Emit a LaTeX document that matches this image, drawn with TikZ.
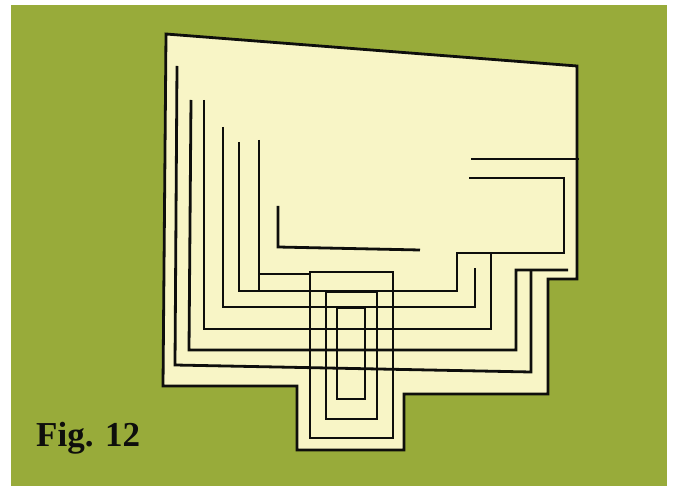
\documentclass[tikz,border=0pt]{standalone}
\usepackage{fontspec}
\setmainfont{Liberation Serif}
\definecolor{bggreen}{HTML}{98AB3A}
\definecolor{cream}{HTML}{F8F5C6}
\definecolor{ink}{HTML}{0E0E0C}
\tikzset{
  wire/.style={draw=ink,line width=2.8pt,line join=miter,line cap=butt},
  outline/.style={wire,fill=cream},
  figlabel/.style={anchor=base west,inner sep=0pt,font=\bfseries\fontsize{35}{35}\selectfont,text=ink}
}
\begin{document}
\begin{tikzpicture}[x=1pt,y=-1pt]
\useasboundingbox (0,0) rectangle (675,486);
\fill[bggreen] (11,5) rectangle (667,486);
\draw[outline] (166,34) -- (577,66) -- (577,279) -- (548,279) -- (548,394) -- (404,394) -- (404,450) -- (297,450) -- (297,386) -- (163,386) -- cycle;
% left-hand runs
\draw[wire] (177,66) -- (175,365) -- (531,372) -- (531,270);
\draw[wire] (191,100) -- (189,350) -- (516,350) -- (516,270) -- (568,270);
\draw[wire] (204,100) -- (204,329) -- (491,329) -- (491,253);
\draw[wire] (223,127) -- (223,307) -- (475,307) -- (475,268);
\draw[wire] (239,142) -- (239,291) -- (457,291) -- (457,253) -- (564,253) -- (564,178) -- (469,178);
\draw[wire] (259,140) -- (259,291);
\draw[wire] (259,274) -- (310,274);
\draw[wire] (278,206) -- (278,247) -- (420,250);
\draw[wire] (471,159) -- (579,159);
% nested loops
\draw[wire] (310,272) rectangle (393,438);
\draw[wire] (326,292) rectangle (377,419);
\draw[wire] (337,308) rectangle (365,399);
\node[figlabel] (figlabel) at (36,446) {Fig. 12};
\end{tikzpicture}
\end{document}
